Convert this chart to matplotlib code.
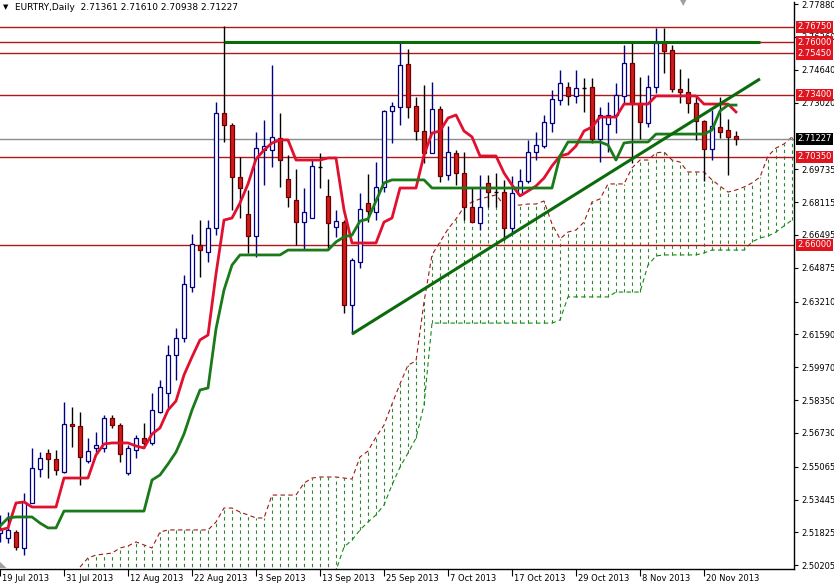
import numpy as np
import pandas as pd
import matplotlib as mpl
mpl.use('Agg')
import matplotlib.pyplot as plt
from matplotlib.transforms import ScaledTranslation

plt.rcParams['font.family'] = 'DejaVu Sans'

header = "EURTRY,Daily  2.71361 2.71610 2.70938 2.71227"
first_day = "2013-07-19"

# daily candles
opens = [2.5180, 2.5155, 2.5185, 2.5106, 2.5328, 2.5496, 2.5574, 2.5545, 2.5481, 2.5717,
         2.5708, 2.5535, 2.5599, 2.5599, 2.5747, 2.5712, 2.5476, 2.5589, 2.5648, 2.5624,
         2.5777, 2.5870, 2.6058, 2.6141, 2.6393, 2.6600, 2.6566, 2.6684, 2.7251, 2.7192,
         2.6935, 2.6753, 2.6644, 2.7068, 2.7068, 2.7128, 2.6925, 2.6822, 2.6713, 2.6733,
         2.6985, 2.6842, 2.6689, 2.6713, 2.6304, 2.6516, 2.6807, 2.6763, 2.6886, 2.7261,
         2.7280, 2.7493, 2.7285, 2.7162, 2.7054, 2.7271, 2.6945, 2.7054, 2.6955, 2.6787,
         2.6708, 2.6906, 2.6861, 2.6861, 2.6684, 2.6851, 2.6916, 2.7059, 2.7088, 2.7202,
         2.7315, 2.7379, 2.7335, 2.7374, 2.7379, 2.7123, 2.7197, 2.7241, 2.7335, 2.7497,
         2.7300, 2.7202, 2.7379, 2.7596, 2.7562, 2.7369, 2.7354, 2.7300, 2.7211, 2.7073,
         2.7182, 2.7167, 2.71361]
highs = [2.5269, 2.5283, 2.5195, 2.5377, 2.5599, 2.5579, 2.5594, 2.5589, 2.5826, 2.5801,
         2.5777, 2.5648, 2.5678, 2.5762, 2.5762, 2.5722, 2.5614, 2.5663, 2.5722, 2.5870,
         2.5934, 2.6107, 2.6191, 2.6452, 2.6654, 2.6723, 2.6723, 2.7305, 2.7680, 2.7202,
         2.7034, 2.6871, 2.7157, 2.7216, 2.7488, 2.7251, 2.7044, 2.6975, 2.6881, 2.7019,
         2.7054, 2.6925, 2.6773, 2.6723, 2.6536, 2.6856, 2.6950, 2.7009, 2.7266, 2.7305,
         2.7596, 2.7566, 2.7330, 2.7389, 2.7404, 2.7285, 2.7187, 2.7068, 2.7059, 2.6881,
         2.6945, 2.6945, 2.6955, 2.6921, 2.6940, 2.6975, 2.7118, 2.7157, 2.7241, 2.7364,
         2.7463, 2.7404, 2.7463, 2.7423, 2.7423, 2.7280, 2.7305, 2.7399, 2.7586, 2.7596,
         2.7428, 2.7438, 2.7670, 2.7670, 2.7586, 2.7468, 2.7423, 2.7335, 2.7216, 2.7266,
         2.7330, 2.7221, 2.71610]
lows = [2.5136, 2.5131, 2.5096, 2.5071, 2.5328, 2.5456, 2.5451, 2.5466, 2.5476, 2.5604,
        2.5417, 2.5525, 2.5579, 2.5579, 2.5698, 2.5530, 2.5466, 2.5550, 2.5599, 2.5614,
        2.5772, 2.5796, 2.5934, 2.6122, 2.6368, 2.6442, 2.6516, 2.6649, 2.7108, 2.6773,
        2.6733, 2.6561, 2.6541, 2.6896, 2.6985, 2.6886, 2.6787, 2.6600, 2.6575, 2.6733,
        2.6881, 2.6575, 2.6640, 2.6265, 2.6161, 2.6487, 2.6713, 2.6723, 2.6861, 2.7103,
        2.7192, 2.7226, 2.7118, 2.7004, 2.7054, 2.6911, 2.6921, 2.6896, 2.6723, 2.6713,
        2.6674, 2.6787, 2.6787, 2.6625, 2.6659, 2.6847, 2.6906, 2.7019, 2.7078, 2.7157,
        2.7290, 2.7290, 2.7300, 2.7256, 2.7103, 2.7009, 2.7059, 2.7152, 2.7300, 2.7004,
        2.7123, 2.7182, 2.7350, 2.7448, 2.7354, 2.7300, 2.7251, 2.7118, 2.6916, 2.7019,
        2.7128, 2.6945, 2.70938]
closes = [2.5195, 2.5195, 2.5111, 2.5333, 2.5500, 2.5550, 2.5545, 2.5491, 2.5717, 2.5708,
          2.5555, 2.5584, 2.5614, 2.5747, 2.5712, 2.5569, 2.5599, 2.5648, 2.5624, 2.5786,
          2.5900, 2.6058, 2.6141, 2.6408, 2.6605, 2.6575, 2.6684, 2.7251, 2.7192, 2.6935,
          2.6881, 2.6644, 2.7078, 2.7088, 2.7133, 2.7019, 2.6837, 2.6713, 2.6763, 2.6990,
          2.6985, 2.6708, 2.6718, 2.6304, 2.6526, 2.6778, 2.6768, 2.6886, 2.7261, 2.7285,
          2.7488, 2.7280, 2.7162, 2.7054, 2.7271, 2.6940, 2.7059, 2.6955, 2.6787, 2.6713,
          2.6787, 2.6861, 2.6861, 2.6684, 2.6856, 2.6916, 2.7059, 2.7093, 2.7207, 2.7320,
          2.7399, 2.7335, 2.7374, 2.7374, 2.7123, 2.7241, 2.7241, 2.7340, 2.7497, 2.7300,
          2.7207, 2.7379, 2.7596, 2.7557, 2.7369, 2.7354, 2.7300, 2.7211, 2.7073, 2.7187,
          2.7157, 2.7133, 2.71227]

# ichimoku lines as drawn on the chart
tenkan = [2.5195, 2.5205, 2.5328, 2.5333, 2.5308, 2.5308, 2.5308, 2.5308, 2.5451, 2.5451,
          2.5451, 2.5451, 2.5565, 2.5619, 2.5624, 2.5624, 2.5624, 2.5609, 2.5599, 2.5668,
          2.5698, 2.5786, 2.5831, 2.5959, 2.6048, 2.6132, 2.6156, 2.6457, 2.6723, 2.6733,
          2.6807, 2.6901, 2.7024, 2.7068, 2.7103, 2.7118, 2.7118, 2.7019, 2.7019, 2.7019,
          2.7019, 2.7029, 2.7029, 2.6773, 2.6610, 2.6610, 2.6610, 2.6610, 2.6713, 2.6733,
          2.6881, 2.6881, 2.6881, 2.7044, 2.7152, 2.7162, 2.7226, 2.7241, 2.7162, 2.7133,
          2.7039, 2.7039, 2.7039, 2.6955, 2.6896, 2.6842, 2.6866, 2.6891, 2.6930, 2.6990,
          2.7039, 2.7049, 2.7088, 2.7162, 2.7182, 2.7231, 2.7231, 2.7231, 2.7295, 2.7295,
          2.7295, 2.7295, 2.7335, 2.7335, 2.7335, 2.7335, 2.7335, 2.7335, 2.7295, 2.7295,
          2.7295, 2.7295, 2.7256]
kijun = [2.5214, 2.5254, 2.5259, 2.5259, 2.5259, 2.5229, 2.5205, 2.5205, 2.5288, 2.5288,
         2.5288, 2.5288, 2.5288, 2.5288, 2.5288, 2.5288, 2.5288, 2.5288, 2.5288, 2.5441,
         2.5466, 2.5520, 2.5579, 2.5668, 2.5786, 2.5885, 2.5895, 2.6186, 2.6378, 2.6501,
         2.6551, 2.6551, 2.6551, 2.6551, 2.6551, 2.6551, 2.6575, 2.6575, 2.6575, 2.6575,
         2.6575, 2.6575, 2.6615, 2.6640, 2.6649, 2.6718, 2.6728, 2.6817, 2.6906, 2.6921,
         2.6921, 2.6921, 2.6921, 2.6921, 2.6881, 2.6881, 2.6881, 2.6881, 2.6881, 2.6881,
         2.6881, 2.6881, 2.6881, 2.6881, 2.6881, 2.6881, 2.6881, 2.6881, 2.6881, 2.6881,
         2.7039, 2.7108, 2.7108, 2.7108, 2.7108, 2.7108, 2.7093, 2.7019, 2.7103, 2.7108,
         2.7108, 2.7108, 2.7147, 2.7147, 2.7147, 2.7147, 2.7147, 2.7147, 2.7147, 2.7167,
         2.7261, 2.7290, 2.7290]

# cloud (senkou spans), first visible bar and values up to the right edge
cloud_from = 10
span_a = [2.5012, 2.5057, 2.5071, 2.5076, 2.5081, 2.5106, 2.5116, 2.5136, 2.5121, 2.5106,
          2.5185, 2.5195, 2.5195, 2.5195, 2.5195, 2.5195, 2.5195, 2.5234, 2.5303, 2.5303,
          2.5283, 2.5269, 2.5254, 2.5254, 2.5367, 2.5367, 2.5367, 2.5367, 2.5426, 2.5451,
          2.5456, 2.5456, 2.5456, 2.5451, 2.5446, 2.5555, 2.5584, 2.5653, 2.5712, 2.5816,
          2.5915, 2.6008, 2.6028, 2.6319, 2.6551, 2.6615, 2.6679, 2.6728, 2.6787, 2.6812,
          2.6827, 2.6837, 2.6847, 2.6797, 2.6797, 2.6797, 2.6802, 2.6802, 2.6817, 2.6704,
          2.6630, 2.6664, 2.6674, 2.6713, 2.6812, 2.6827, 2.6901, 2.6901, 2.6901, 2.6980,
          2.7019, 2.7019, 2.7054, 2.7059, 2.7019, 2.7009, 2.6960, 2.6960, 2.6960, 2.6921,
          2.6891, 2.6861, 2.6871, 2.6886, 2.6906, 2.6935, 2.7039, 2.7078, 2.7098, 2.7133]
span_b = [2.4950, 2.4950, 2.4950, 2.4950, 2.4950, 2.4950, 2.4950, 2.4950, 2.4950, 2.4950,
          2.4950, 2.4950, 2.4950, 2.4950, 2.4950, 2.4950, 2.4950, 2.4950, 2.4950, 2.4950,
          2.4950, 2.4950, 2.4950, 2.4950, 2.4950, 2.4950, 2.4950, 2.4950, 2.4950, 2.4950,
          2.4950, 2.4950, 2.4995, 2.5111, 2.5145, 2.5195, 2.5234, 2.5269, 2.5318, 2.5417,
          2.5505, 2.5574, 2.5648, 2.5811, 2.6215, 2.6215, 2.6215, 2.6215, 2.6215, 2.6215,
          2.6215, 2.6215, 2.6215, 2.6215, 2.6215, 2.6215, 2.6215, 2.6215, 2.6215, 2.6215,
          2.6230, 2.6344, 2.6344, 2.6344, 2.6344, 2.6344, 2.6344, 2.6368, 2.6368, 2.6368,
          2.6368, 2.6501, 2.6546, 2.6551, 2.6551, 2.6551, 2.6551, 2.6551, 2.6561, 2.6575,
          2.6575, 2.6575, 2.6575, 2.6575, 2.6615, 2.6635, 2.6644, 2.6664, 2.6694, 2.6723]

levels = [2.7675, 2.7600, 2.7545, 2.7340, 2.7035, 2.6600]
last_price = 2.71227
# scale labels (the one under the last price label is hidden there anyway)
price_ticks = [2.77880, 2.76260, 2.74640, 2.73020, 2.69735, 2.68115,
               2.66495, 2.64875, 2.63210, 2.61590, 2.59970, 2.58350, 2.56730,
               2.55065, 2.53445, 2.51825, 2.50205]

# drawn objects: (bar, price) end points
resistance = [(28, 2.7600), (95, 2.7600)]
trend = [(44, 2.6161), (95, 2.7419)]

W, H = 834, 586
fig = plt.figure(figsize=(W / 100, H / 100), dpi=100)
ax = fig.add_axes([0, 17 / H, 794 / W, 567 / H])
ax.set_xlim(0, 99.25)
ax.set_ylim(2.50024, 2.77982)

o = np.array(opens)
h = np.array(highs)
l = np.array(lows)
c = np.array(closes)
x = np.arange(len(o))

# cloud hatching + span lines
xc = np.arange(cloud_from, cloud_from + len(span_a))
ax.vlines(xc, span_b, span_a, colors='#2a8a2a', lw=0.8, linestyles=(0, (3, 3)), zorder=1)
ax.plot(xc, span_a, color='#a01818', lw=0.8, ls=(0, (4, 3)), zorder=1.5)
ax.plot(xc, span_b, color='#138a13', lw=0.8, ls=(0, (4, 3)), zorder=1.5)

for lvl in levels:
    ax.axhline(lvl, color='#b01818', lw=1, zorder=2)
ax.axhline(last_price, color='#8c8c8c', lw=1, zorder=2)

# candles
up = c > o
down = c < o
flat = c == o
ax.vlines(x[up], l[up], h[up], color='#000080', lw=1, zorder=3)
ax.vlines(x[~up], l[~up], h[~up], color='black', lw=1, zorder=3)
ax.bar(x[up], (c - o)[up], bottom=o[up], width=0.55, facecolor='white',
       edgecolor='#000080', lw=0.9, zorder=4)
ax.bar(x[down], (c - o)[down], bottom=o[down], width=0.55, facecolor='#d01c1c',
       edgecolor='#700000', lw=0.9, zorder=4)
ax.hlines(c[flat], x[flat] - 0.3, x[flat] + 0.3, color='black', lw=1, zorder=4)

ax.plot(x, tenkan, color='#e0102f', lw=2, zorder=5)
ax.plot(x, kijun, color='#1a7a1a', lw=2, zorder=5)

for pts in (resistance, trend):
    ax.plot([p[0] for p in pts], [p[1] for p in pts], color='#0b6b0b', lw=2.2,
            zorder=6, solid_capstyle='butt')

# axes look
for s in ('top', 'left'):
    ax.spines[s].set_visible(False)
for s in ('right', 'bottom'):
    ax.spines[s].set_color('black')
    ax.spines[s].set_linewidth(1)

ax.yaxis.tick_right()
ax.set_yticks(price_ticks)
ax.set_yticklabels([f'{v:.5f}' for v in price_ticks])
ax.tick_params(axis='y', length=3, width=0.8, pad=2, labelsize=6)

dates = pd.bdate_range(first_day, periods=len(o))
ax.set_xticks(x[::8])
ax.set_xticklabels([f"{d.day} {d.strftime('%b %Y')}" for d in dates[::8]])
ax.tick_params(axis='x', length=5, width=0.8, pad=-1.5, labelsize=6)
shift = ScaledTranslation(2 / 100, 0, fig.dpi_scale_trans)
for t in ax.get_xticklabels():
    t.set_horizontalalignment('left')
    t.set_transform(t.get_transform() + shift)

ytr = ax.get_yaxis_transform()
for lvl in levels:
    ax.text(1.004, lvl, f'{lvl:.5f}', transform=ytr, ha='left', va='center',
            fontsize=6, color='white', zorder=10, clip_on=False,
            bbox=dict(boxstyle='square,pad=0.2', fc='#e0141e', ec='none'))
ax.text(1.004, last_price, f'{last_price:.5f}', transform=ytr, ha='left', va='center',
        fontsize=6, color='white', zorder=11, clip_on=False,
        bbox=dict(boxstyle='square,pad=0.2', fc='black', ec='none'))

fig.text(3 / W, 1 - 7 / H, '\u25bc', fontsize=5, va='center', ha='left')
fig.text(15 / W, 1 - 7 / H, header, fontsize=6.5, va='center', ha='left')
# chart shift marker on top and the corner marker at bottom left
fig.text(683 / W, 1 - 3 / H, '\u25bc', fontsize=6, color='#a0a0a0', va='center', ha='center')
fig.text(0, 17 / H, '\u25e3', fontsize=6, color='#a0a0a0', va='bottom', ha='left')

fig.savefig('out.png', dpi=100)
